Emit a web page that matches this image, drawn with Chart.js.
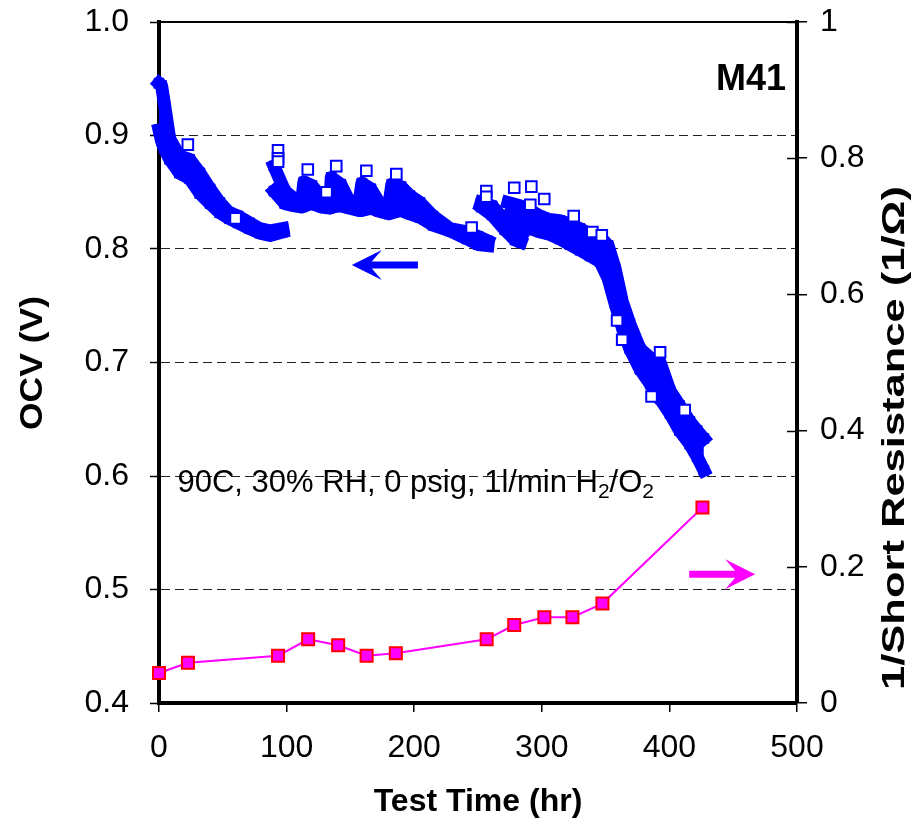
<!DOCTYPE html>
<html>
<head>
<meta charset="utf-8">
<script src="https://cdn.jsdelivr.net/npm/chart.js@4/dist/chart.umd.min.js"></script>
<style>
  html, body { margin: 0; padding: 0; background: #ffffff; }
  #wrap { width: 916px; height: 820px; }
</style>
</head>
<body>
<div id="wrap"><canvas id="c" width="916" height="820"></canvas></div>
<script>
// ---------- DATA ----------
// OCV band, segment 1 (test time in hr, OCV in V: upper and lower edge of the point cloud)
const seg1Time   = [0, 2, 4.5, 8.4, 16, 24, 32, 40, 47.6, 55, 62, 71, 79, 87, 97];
const seg1Top    = [0.946, 0.944, 0.926, 0.897, 0.882, 0.879, 0.867, 0.853, 0.841, 0.832, 0.829, 0.823, 0.818, 0.816, 0.818];
const seg1Bottom = [0.905, 0.895, 0.888, 0.879, 0.867, 0.862, 0.849, 0.840, 0.832, 0.827, 0.823, 0.818, 0.814, 0.812, 0.815];

// segment 2 (saw-tooth after each restart)
const seg2Time   = [90.1, 98.6, 106.4, 112, 113.5, 119.8, 127.6, 133.9, 135, 142.5, 149.6, 156.6, 159, 166, 173, 180, 182.5, 189.6, 196.6, 204.5, 214.7, 228, 241.3, 250, 257.8];
const seg2Top    = [0.873, 0.851, 0.844, 0.843, 0.859, 0.856, 0.845, 0.841, 0.863, 0.857, 0.841, 0.840, 0.858, 0.853, 0.840, 0.838, 0.857, 0.855, 0.847, 0.841, 0.829, 0.818, 0.815, 0.811, 0.807];
const seg2Bottom = [0.851, 0.840, 0.838, 0.837, 0.838, 0.840, 0.837, 0.836, 0.837, 0.838, 0.836, 0.834, 0.834, 0.836, 0.833, 0.831, 0.832, 0.834, 0.831, 0.828, 0.821, 0.816, 0.809, 0.804, 0.803];

// segment 3a
const seg3aTime   = [252.5, 261, 271, 279, 283.5];
const seg3aTop    = [0.841, 0.838, 0.825, 0.815, 0.811];
const seg3aBottom = [0.837, 0.830, 0.817, 0.808, 0.806];

// segment 3b (final decay)
const seg3bTime   = [273.5, 283, 291, 298.6, 306, 314, 322, 330, 337.8, 345.6, 352, 357.4, 363, 369, 377, 385, 392.7, 400.5, 408, 416, 421.7, 427];
const seg3bTop    = [0.841, 0.838, 0.834, 0.829, 0.826, 0.825, 0.822, 0.818, 0.813, 0.811, 0.803, 0.783, 0.754, 0.734, 0.712, 0.704, 0.700, 0.675, 0.662, 0.648, 0.640, 0.633];
const seg3bBottom = [0.829, 0.822, 0.818, 0.815, 0.813, 0.809, 0.804, 0.799, 0.794, 0.789, 0.774, 0.752, 0.731, 0.712, 0.694, 0.681, 0.668, 0.655, 0.640, 0.628, 0.617, 0.605];

// isolated OCV readings (open squares standing out of the band)
const spikeTime = [22.6, 60, 93.3, 93.3, 93.3, 116.6, 131.3, 138.9, 162.5, 186, 245, 256.5, 256.5, 278.4, 291.8, 301.9, 291, 325, 339.6, 347, 359, 363, 386, 392.7, 412];
const spikeOcv  = [0.892, 0.827, 0.887, 0.880, 0.877, 0.870, 0.850, 0.873, 0.869, 0.866, 0.819, 0.851, 0.846, 0.854, 0.855, 0.844, 0.839, 0.829, 0.815, 0.812, 0.737, 0.720, 0.670, 0.709, 0.658];

// 1/Short resistance (1/Ohm), right axis
const resTime  = [0, 22.7, 93.3, 116.9, 140.4, 162.7, 185.6, 256.8, 278.4, 302, 324, 347.5, 425.9];
const resValue = [0.044, 0.059, 0.0695, 0.0935, 0.0847, 0.0695, 0.073, 0.0935, 0.1145, 0.126, 0.126, 0.146, 0.287];

// axis ticks
const xTicks  = [0, 100, 200, 300, 400, 500];
const yTicks  = [0.4, 0.5, 0.6, 0.7, 0.8, 0.9, 1.0];
const y2Ticks = [0, 0.2, 0.4, 0.6, 0.8, 1];

// ---------- CHART ----------
const BLUE = '#0000FF';
const MAG = '#FF00FF';
const FONT = "'Liberation Sans', Arial, Helvetica, sans-serif";

const pts = (xs, ys) => xs.map((x, i) => ({x: x, y: ys[i]}));

function bandPair(time, top, bottom) {
  const common = {
    showLine: true, borderColor: BLUE, borderWidth: 13, tension: 0,
    pointStyle: 'rect', pointRadius: 7, pointBackgroundColor: BLUE, pointBorderColor: BLUE,
    pointBorderWidth: 1, yAxisID: 'y', clip: false, order: 3,
    borderJoinStyle: 'round', borderCapStyle: 'square'
  };
  return [
    Object.assign({}, common, {label: 'OCV', data: pts(time, top), fill: false}),
    Object.assign({}, common, {label: 'OCV', data: pts(time, bottom), fill: '-1', backgroundColor: BLUE})
  ];
}

const datasets = [
  ...bandPair(seg1Time, seg1Top, seg1Bottom),
  ...bandPair(seg2Time, seg2Top, seg2Bottom),
  ...bandPair(seg3aTime, seg3aTop, seg3aBottom),
  ...bandPair(seg3bTime, seg3bTop, seg3bBottom),
  {
    label: 'OCV spikes', data: pts(spikeTime, spikeOcv), showLine: false,
    pointStyle: 'rect', pointRadius: 7.5, pointBorderWidth: 2,
    pointBorderColor: BLUE, pointBackgroundColor: '#FFFFFF', yAxisID: 'y', clip: false, order: 2
  },
  {
    label: '1/Short Resistance', data: pts(resTime, resValue), showLine: true,
    borderColor: MAG, borderWidth: 2, tension: 0, fill: false,
    pointStyle: 'rect', pointRadius: 8.5, pointBorderWidth: 2,
    pointBorderColor: '#FF0000', pointBackgroundColor: MAG, yAxisID: 'y2', clip: false, order: 1
  }
];

function near(a, b) { return Math.abs(a - b) < 1e-6; }

// draws a text rotated -90deg, stretched to a given length along its direction
function vText(ctx, text, cx, cy, font, length) {
  ctx.save();
  ctx.font = font;
  const w = ctx.measureText(text).width;
  ctx.translate(cx, cy);
  ctx.rotate(-Math.PI / 2);
  ctx.scale(length / w, 1);
  ctx.textAlign = 'center'; ctx.textBaseline = 'middle';
  ctx.fillText(text, 0, 0);
  ctx.restore();
}

const decorPlugin = {
  id: 'decor',
  afterDraw(chart) {
    const ctx = chart.ctx;
    const ca = chart.chartArea;
    const xs = chart.scales.x, ys = chart.scales.y, y2 = chart.scales.y2;
    ctx.save();
    // top frame line
    ctx.strokeStyle = '#000'; ctx.lineWidth = 2;
    ctx.beginPath(); ctx.moveTo(ca.left, ca.top); ctx.lineTo(ca.right + 2, ca.top); ctx.stroke();
    // inward half of right-axis cross ticks
    ctx.lineWidth = 1.5;
    y2Ticks.forEach(v => {
      const py = Math.round(y2.getPixelForValue(v)) + 0.5;
      ctx.beginPath(); ctx.moveTo(ca.right - 10, py); ctx.lineTo(ca.right, py); ctx.stroke();
    });
    ctx.fillStyle = '#000';
    // axis titles (rotated, read bottom to top)
    vText(ctx, 'OCV (V)', 33, 363, 'bold 32px ' + FONT, 134);
    vText(ctx, '1/Short Resistance (1/\u03A9)', 895, 438, 'bold 32px ' + FONT, 504);
    // M41 label
    ctx.font = 'bold 36px ' + FONT;
    ctx.textAlign = 'right'; ctx.textBaseline = 'alphabetic';
    ctx.fillText('M41', ca.right - 11, ca.top + 68);
    // condition note with subscripts
    ctx.textAlign = 'left';
    let x = xs.getPixelForValue(14.5);
    const base = ys.getPixelForValue(0.5855);
    const parts = [
      ['90C, 30% RH, 0 psig, 1l/min H', 31, 0],
      ['2', 21, 6],
      ['/O', 31, 0],
      ['2', 21, 6]
    ];
    parts.forEach(([t, size, dy]) => {
      ctx.font = size + 'px ' + FONT;
      ctx.fillText(t, x, base + dy);
      x += ctx.measureText(t).width;
    });
    // arrows
    function arrow(xTail, xTip, yPix, color) {
      const dir = Math.sign(xTip - xTail);
      const headLen = 30, half = 15, notch = 10, shaft = 3.5;
      ctx.fillStyle = color;
      ctx.beginPath();
      ctx.moveTo(xTail, yPix - shaft);
      ctx.lineTo(xTip - dir * (headLen - notch), yPix - shaft);
      ctx.lineTo(xTip - dir * headLen, yPix - half);
      ctx.lineTo(xTip, yPix);
      ctx.lineTo(xTip - dir * headLen, yPix + half);
      ctx.lineTo(xTip - dir * (headLen - notch), yPix + shaft);
      ctx.lineTo(xTail, yPix + shaft);
      ctx.closePath();
      ctx.fill();
    }
    arrow(xs.getPixelForValue(202.9), xs.getPixelForValue(151.1), ys.getPixelForValue(0.786), BLUE);
    arrow(xs.getPixelForValue(415.5), xs.getPixelForValue(467.2), y2.getPixelForValue(0.189), MAG);
    ctx.restore();
  }
};

function fixV(width) {
  return function(s) { s.width = width; s.paddingTop = 0; s.paddingBottom = 0; };
}

new Chart(document.getElementById('c'), {
  type: 'line',
  data: { datasets: datasets },
  plugins: [decorPlugin],
  options: {
    responsive: false,
    animation: false,
    devicePixelRatio: 1,
    layout: { padding: { top: 22, left: 0, right: 0, bottom: 0 } },
    plugins: { legend: { display: false }, tooltip: { enabled: false } },
    elements: { line: { tension: 0 } },
    scales: {
      x: {
        type: 'linear', position: 'bottom', min: 0, max: 500,
        afterFit(s) { s.height = 117; s.paddingLeft = 0; s.paddingRight = 0; },
        afterBuildTicks(s) { s.ticks = xTicks.map(v => ({value: v})); },
        ticks: { color: '#000', font: { family: FONT, size: 32 }, padding: 17, maxRotation: 0 },
        grid: { display: true, drawOnChartArea: false, drawTicks: true, tickLength: 9, color: '#000', tickColor: '#000', lineWidth: 1.5 },
        border: { display: true, color: '#000', width: 4 },
        title: { display: true, text: 'Test Time (hr)', color: '#000', font: { family: FONT, size: 32, weight: 'bold' }, padding: { top: 0, bottom: -1 } }
      },
      y: {
        type: 'linear', position: 'left', min: 0.4, max: 1.0,
        afterFit: fixV(159),
        afterBuildTicks(s) { s.ticks = yTicks.map(v => ({value: v})); },
        ticks: { color: '#000', font: { family: FONT, size: 32 }, padding: 21, callback: v => Number(v).toFixed(1) },
        grid: {
          display: true, drawOnChartArea: true, drawTicks: true, tickLength: 9,
          color: c => (c.tick && (near(c.tick.value, 0.4) || near(c.tick.value, 1.0))) ? 'rgba(0,0,0,0)' : '#222',
          tickColor: '#000', lineWidth: 1, tickWidth: 1.5
        },
        border: { display: true, color: '#000', width: 4, dash: [9, 5] },
        title: { display: false }
      },
      y2: {
        type: 'linear', position: 'right', min: 0, max: 1,
        afterFit: fixV(119),
        afterBuildTicks(s) { s.ticks = y2Ticks.map(v => ({value: v})); },
        ticks: { color: '#000', font: { family: FONT, size: 32 }, padding: 13,
                 callback: v => { const r = Math.round(v * 10) / 10; return String(r); } },
        grid: { display: true, drawOnChartArea: false, drawTicks: true, tickLength: 10, color: '#000', tickColor: '#000', lineWidth: 1.5 },
        border: { display: true, color: '#000', width: 4 }
      }
    }
  }
});
</script>
</body>
</html>
